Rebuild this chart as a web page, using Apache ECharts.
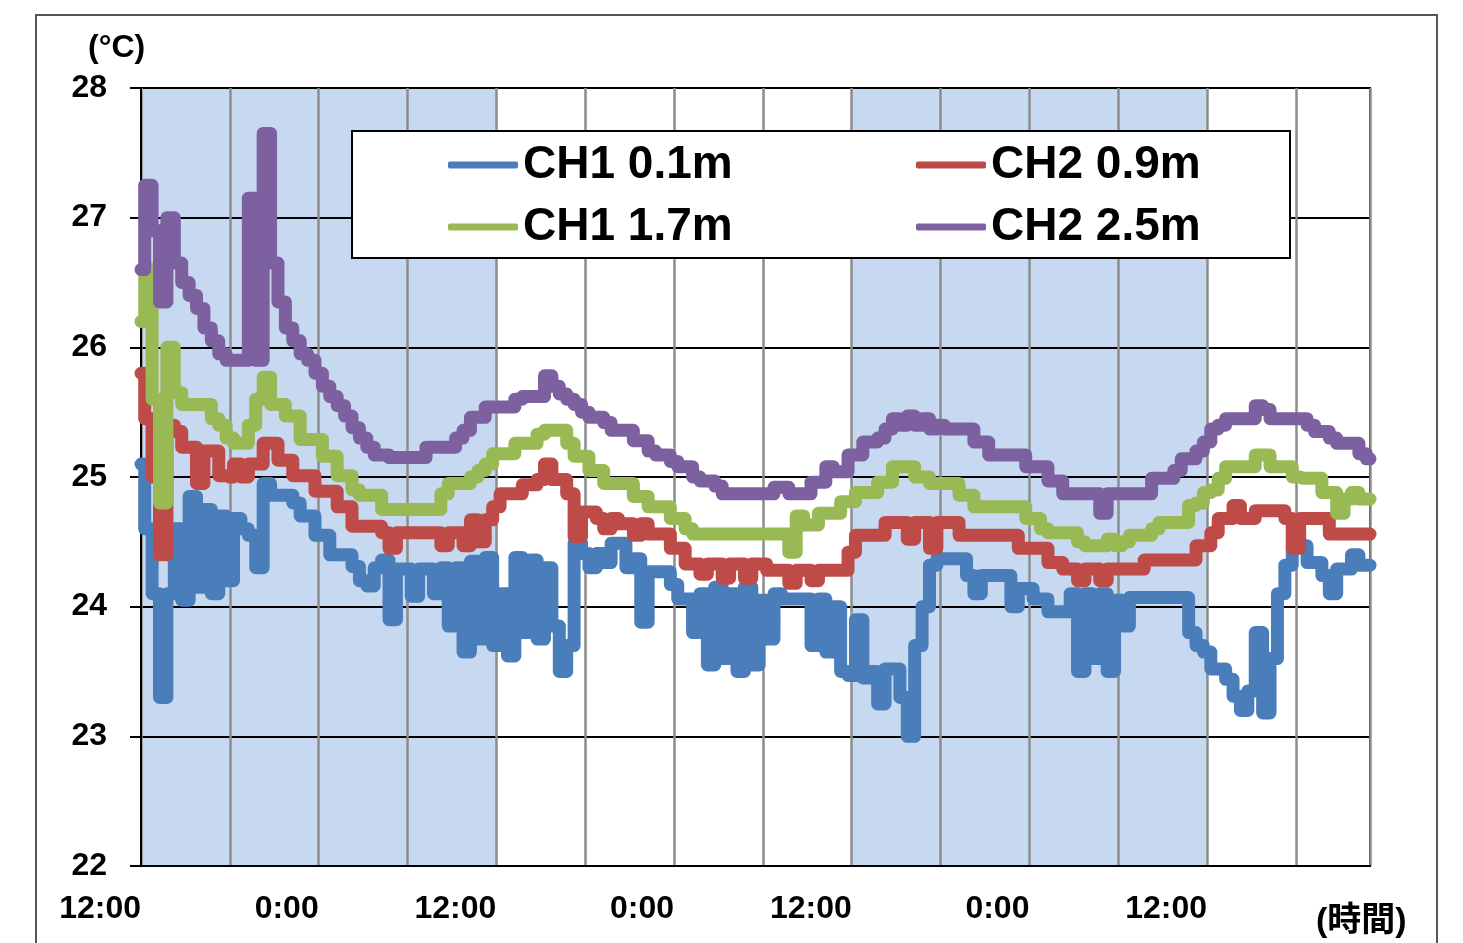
<!DOCTYPE html>
<html>
<head>
<meta charset="utf-8">
<script src="https://cdn.jsdelivr.net/npm/echarts@6/dist/echarts.min.js"></script>
<style>
html,body{margin:0;padding:0;background:#fff;}
#chart{width:1463px;height:943px;}
</style>
</head>
<body>
<div id="chart"></div>
<script>
// sampling step of the readings, in hours (x = index * STEP_HOURS, 0 = 12:00 of day 1)
const STEP_HOURS = 0.5;
const X_MAX_HOURS = 83;
const xTickLabels = ['12:00', '0:00', '12:00', '0:00', '12:00', '0:00', '12:00'];
const yMin = 22, yMax = 28, yStep = 1;
const seriesNames = ['CH1 0.1m', 'CH2 0.9m', 'CH1 1.7m', 'CH2 2.5m'];
const seriesColors = ['#4a7ebb', '#be4b48', '#98b954', '#7d60a0'];
// shaded periods [start hour, end hour]
const shadedBands = [[0, 24], [48, 72]];

const ch1_01m = [
  25.1, 24.6, 24.1, 23.3, 24.1, 24.6, 24.05, 24.85, 24.15, 24.75, 24.1, 24.7,
  24.2, 24.68, 24.6, 24.55, 24.3, 24.95, 24.86, 24.86, 24.86, 24.8, 24.7, 24.7,
  24.55, 24.55, 24.4, 24.4, 24.4, 24.31, 24.2, 24.16, 24.3, 24.36, 23.9, 24.29,
  24.29, 24.08, 24.29, 24.29, 24.1, 24.3, 23.85, 24.3, 23.65, 24.35, 23.75, 24.38,
  23.7, 24.1, 23.62, 24.38, 23.8, 24.36, 23.75, 24.3, 23.85, 23.5, 23.7, 24.49,
  24.41, 24.3, 24.41, 24.34, 24.49, 24.49, 24.3, 24.37, 23.88, 24.27, 24.27, 24.27,
  24.17, 24.06, 24.06, 23.8, 24.1, 23.55, 24.15, 23.6, 24.1, 23.5, 24.15, 23.55,
  24.05, 23.75, 24.1, 24.06, 24.06, 24.06, 24.06, 23.7, 24.06, 23.65, 24.0, 23.5,
  23.47, 23.9, 23.45, 23.5, 23.25, 23.52, 23.52, 23.3, 23.0, 23.7, 24.0, 24.32,
  24.37, 24.37, 24.37, 24.37, 24.24, 24.1, 24.24, 24.24, 24.24, 24.24, 24.0, 24.14,
  24.14, 24.06, 24.06, 23.96, 23.96, 23.96, 24.1, 23.5, 24.1, 23.6, 24.1, 23.5,
  24.05, 23.85, 24.07, 24.07, 24.07, 24.07, 24.07, 24.07, 24.07, 24.07, 23.8, 23.7,
  23.65, 23.52, 23.52, 23.44, 23.31, 23.2, 23.35, 23.8, 23.18, 23.6, 24.1, 24.32,
  24.47, 24.47, 24.34, 24.34, 24.24, 24.1, 24.29, 24.29, 24.4, 24.32, 24.32
];
const ch2_09m = [
  25.8, 25.45, 25.0, 24.4, 25.4, 25.35, 25.23, 25.23, 24.95, 25.2, 25.2, 25.01,
  25.0, 25.1, 25.0, 25.1, 25.1, 25.26, 25.26, 25.13, 25.13, 25.01, 25.01, 25.01,
  24.89, 24.89, 24.89, 24.77, 24.77, 24.62, 24.62, 24.62, 24.62, 24.57, 24.45, 24.57,
  24.57, 24.57, 24.57, 24.57, 24.57, 24.47, 24.57, 24.57, 24.47, 24.67, 24.5, 24.67,
  24.77, 24.87, 24.87, 24.87, 24.94, 24.94, 24.98, 25.1, 24.98, 24.98, 24.87, 24.54,
  24.73, 24.73, 24.68, 24.6, 24.68, 24.64, 24.64, 24.55, 24.64, 24.56, 24.56, 24.56,
  24.45, 24.45, 24.33, 24.33, 24.25, 24.33, 24.33, 24.22, 24.33, 24.33, 24.22, 24.33,
  24.33, 24.28, 24.28, 24.28, 24.18, 24.28, 24.28, 24.2, 24.28, 24.28, 24.28, 24.28,
  24.42, 24.55, 24.55, 24.55, 24.55, 24.65, 24.65, 24.65, 24.52, 24.65, 24.65, 24.45,
  24.65, 24.65, 24.65, 24.55, 24.55, 24.55, 24.55, 24.55, 24.55, 24.55, 24.55, 24.45,
  24.45, 24.45, 24.45, 24.34, 24.34, 24.29, 24.29, 24.2, 24.29, 24.29, 24.2, 24.29,
  24.29, 24.29, 24.29, 24.29, 24.36, 24.36, 24.36, 24.36, 24.36, 24.36, 24.36, 24.47,
  24.47, 24.57, 24.68, 24.68, 24.78, 24.68, 24.68, 24.74, 24.74, 24.74, 24.74, 24.68,
  24.45, 24.68, 24.68, 24.68, 24.68, 24.56, 24.56, 24.56, 24.56, 24.56, 24.56
];
const ch1_17m = [
  26.2, 26.6, 25.6, 24.8, 26.0, 25.65, 25.56, 25.56, 25.56, 25.56, 25.45, 25.4,
  25.3, 25.26, 25.26, 25.4, 25.6, 25.77, 25.56, 25.56, 25.47, 25.47, 25.29, 25.29,
  25.29, 25.16, 25.16, 25.01, 25.01, 24.9, 24.86, 24.86, 24.86, 24.75, 24.75, 24.75,
  24.75, 24.75, 24.75, 24.75, 24.75, 24.87, 24.95, 24.95, 24.95, 25.0, 25.05, 25.1,
  25.18, 25.18, 25.18, 25.26, 25.26, 25.26, 25.33, 25.36, 25.36, 25.36, 25.26, 25.16,
  25.16, 25.05, 25.05, 24.95, 24.95, 24.95, 24.95, 24.85, 24.85, 24.77, 24.77, 24.77,
  24.68, 24.68, 24.6, 24.56, 24.56, 24.56, 24.56, 24.56, 24.56, 24.56, 24.56, 24.56,
  24.56, 24.56, 24.56, 24.56, 24.42, 24.7, 24.63, 24.63, 24.72, 24.72, 24.72, 24.81,
  24.81, 24.88, 24.88, 24.88, 24.96, 24.96, 25.08, 25.08, 25.08, 25.0, 25.0, 24.95,
  24.95, 24.95, 24.95, 24.86, 24.86, 24.77, 24.77, 24.77, 24.77, 24.77, 24.77, 24.77,
  24.68, 24.68, 24.6, 24.57, 24.57, 24.57, 24.57, 24.5, 24.47, 24.47, 24.47, 24.52,
  24.47, 24.5, 24.55, 24.55, 24.55, 24.6, 24.65, 24.65, 24.65, 24.65, 24.78, 24.8,
  24.88, 24.9, 24.99, 25.08, 25.08, 25.08, 25.08, 25.17, 25.17, 25.08, 25.08, 25.08,
  25.0, 24.99, 24.99, 24.99, 24.88, 24.88, 24.72, 24.83, 24.88, 24.83, 24.83
];
const ch2_25m = [
  26.6, 27.25, 26.9, 26.35, 27.0, 26.65, 26.5, 26.4, 26.3, 26.15, 26.05, 25.95,
  25.9, 25.9, 25.9, 27.15, 25.9, 27.65, 26.65, 26.35, 26.15, 26.05, 25.95, 25.9,
  25.8, 25.7, 25.62, 25.55, 25.47, 25.38, 25.3, 25.23, 25.17, 25.17, 25.15, 25.15,
  25.15, 25.15, 25.15, 25.23, 25.23, 25.23, 25.23, 25.3, 25.36, 25.46, 25.46, 25.54,
  25.54, 25.54, 25.54, 25.6, 25.62, 25.62, 25.62, 25.78, 25.7, 25.64, 25.6, 25.56,
  25.5, 25.46, 25.46, 25.42, 25.36, 25.36, 25.36, 25.28, 25.28, 25.2, 25.17, 25.17,
  25.12, 25.08, 25.08, 25.0, 24.97, 24.97, 24.93, 24.87, 24.87, 24.87, 24.87, 24.87,
  24.87, 24.87, 24.92, 24.92, 24.87, 24.87, 24.87, 24.96, 24.96, 25.08, 25.04, 25.04,
  25.17, 25.17, 25.27, 25.27, 25.3, 25.37, 25.45, 25.4, 25.47, 25.4, 25.45, 25.37,
  25.4, 25.37, 25.37, 25.37, 25.37, 25.27, 25.27, 25.17, 25.17, 25.17, 25.17, 25.17,
  25.08, 25.08, 25.08, 24.97, 24.97, 24.87, 24.87, 24.87, 24.87, 24.87, 24.72, 24.87,
  24.87, 24.87, 24.87, 24.87, 24.87, 24.99, 24.99, 24.99, 25.05, 25.14, 25.14, 25.2,
  25.27, 25.37, 25.4, 25.45, 25.45, 25.45, 25.45, 25.55, 25.52, 25.45, 25.45, 25.45,
  25.45, 25.45, 25.4, 25.35, 25.35, 25.3, 25.26, 25.26, 25.26, 25.18, 25.14
];
const seriesValues = [ch1_01m, ch2_09m, ch1_17m, ch2_25m];

const FONT = 'Liberation Sans, Arial, Noto Sans CJK JP, sans-serif';
const toPairs = arr => arr.map((v, i) => [i * STEP_HOURS, v]);

const chart = echarts.init(document.getElementById('chart'), null, {renderer: 'canvas'});

const lineSeries = seriesNames.map((name, k) => ({
  name: name,
  type: 'line',
  data: toPairs(seriesValues[k]),
  step: 'middle',
  showSymbol: false,
  symbol: 'none',
  z: 3,
  lineStyle: {color: seriesColors[k], width: 13, join: 'round', cap: 'round'},
  itemStyle: {color: seriesColors[k]},
  emphasis: {disabled: true}
}));

const bandSeries = {
  name: 'bands',
  type: 'line',
  data: [],
  z: 1,
  silent: true,
  markArea: {
    silent: true,
    itemStyle: {color: '#c6d9f1', opacity: 1},
    data: shadedBands.map(b => [{xAxis: b[0]}, {xAxis: b[1]}])
  }
};

const legendCommon = {
  orient: 'vertical', top: 137, itemGap: 16,
  itemWidth: 70, itemHeight: 7, icon: 'roundRect', selectedMode: false, z: 10,
  textStyle: {fontFamily: FONT, fontWeight: 'bold', fontSize: 46, color: '#000'}
};

chart.setOption({
  animation: false,
  backgroundColor: '#fff',
  grid: {left: 141, top: 88, right: 93, bottom: 77, show: true, borderColor: '#000', borderWidth: 2, backgroundColor: '#fff'},
  xAxis: {
    type: 'value', min: 0, max: X_MAX_HOURS, interval: 6, z: 2,
    axisLine: {show: true, onZero: false, lineStyle: {color: '#000', width: 2}},
    axisTick: {show: false},
    splitLine: {show: true, lineStyle: {color: '#8c8c8c', width: 2.5}},
    axisLabel: {
      show: true, align: 'right', margin: 27,
      fontFamily: FONT, fontWeight: 'bold', fontSize: 32, color: '#000',
      showMaxLabel: true, showMinLabel: true,
      formatter: v => (Math.abs(v % 12) < 1e-6 && v <= 72) ? xTickLabels[Math.round(v / 12)] : ''
    }
  },
  yAxis: {
    type: 'value', min: yMin, max: yMax, interval: yStep, z: 2,
    axisLine: {show: true, lineStyle: {color: '#000', width: 2}},
    axisTick: {show: true, length: 11, lineStyle: {color: '#000', width: 2}},
    splitLine: {show: true, lineStyle: {color: '#000', width: 2}},
    axisLabel: {fontFamily: FONT, fontWeight: 'bold', fontSize: 32, color: '#000', margin: 34}
  },
  legend: [
    Object.assign({data: [seriesNames[0], seriesNames[2]], left: 443}, legendCommon),
    Object.assign({data: [seriesNames[1], seriesNames[3]], left: 911}, legendCommon)
  ],
  graphic: [
    {type: 'rect', z: 0, silent: true, shape: {x: 36, y: 15, width: 1401, height: 960},
     style: {fill: 'none', stroke: '#555', lineWidth: 2}},
    {type: 'rect', z: 5, silent: true, shape: {x: 352, y: 131, width: 938, height: 127},
     style: {fill: '#fff', stroke: '#000', lineWidth: 2}},
    {type: 'text', z: 5, left: 88, top: 32, silent: true,
     style: {text: '(°C)', fontFamily: FONT, fontWeight: 'bold', fontSize: 32, fill: '#000'}},
    {type: 'text', z: 5, left: 1316, top: 905, silent: true,
     style: {text: '(時間)', fontFamily: FONT, fontWeight: 'bold', fontSize: 34, fill: '#000'}}
  ],
  series: [bandSeries].concat(lineSeries)
});
</script>
</body>
</html>
